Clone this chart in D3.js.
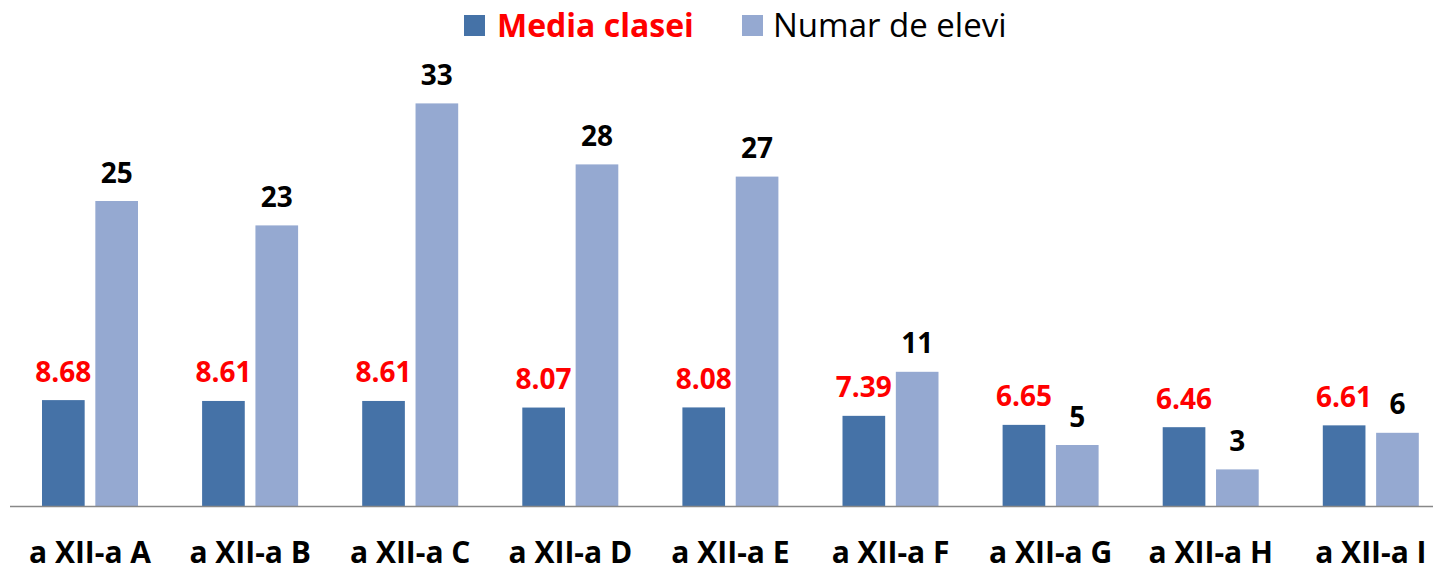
<!DOCTYPE html>
<html><head><meta charset="utf-8">
<script src="https://cdn.jsdelivr.net/npm/d3@7"></script>
<style>html,body{margin:0;padding:0;background:#fff;overflow:hidden}</style>
</head><body>
<svg id="c" width="1433" height="572"></svg>
<script>
const categories = ["a XII-a A","a XII-a B","a XII-a C","a XII-a D","a XII-a E","a XII-a F","a XII-a G","a XII-a H","a XII-a I"];
const seriesNames = ["Media clasei","Numar de elevi"];
const mediaClasei = [8.68, 8.61, 8.61, 8.07, 8.08, 7.39, 6.65, 6.46, 6.61];
const numarElevi = [25, 23, 33, 28, 27, 11, 5, 3, 6];
const mediaLabels = ["8.68","8.61","8.61","8.07","8.08","7.39","6.65","6.46","6.61"];

const colors = ["#4572A7", "#95A9D1"];
const labelColors = ["#FF0000", "#000000"];
const svg = d3.select("#c");
const base = 506;
const y = d3.scaleLinear().domain([0, 33]).range([base, base - 33*12.2]);
const x0 = d3.scaleBand().domain(categories).range([10, 10 + 9*160.1]).padding(0);
const x1 = d3.scaleBand().domain(seriesNames).range([32, 128]).paddingInner(0.2).paddingOuter(0);

const data = categories.map((c,i)=>({cat:c, vals:[
  {s:seriesNames[0], v:mediaClasei[i], t:mediaLabels[i], k:0},
  {s:seriesNames[1], v:numarElevi[i], t:String(numarElevi[i]), k:1}
]}));

const g = svg.selectAll("g.grp").data(data).join("g").attr("class","grp")
  .attr("transform", d=>`translate(${x0(d.cat)},0)`);
g.selectAll("rect").data(d=>d.vals).join("rect")
  .attr("x", d=>x1(d.s)).attr("width", x1.bandwidth())
  .attr("y", d=>y(d.v)).attr("height", d=>y(0)-y(d.v))
  .attr("fill", d=>colors[d.k]);
g.selectAll("text.val").data(d=>d.vals).join("text").attr("class","val")
  .attr("x", d=>x1(d.s)+x1.bandwidth()/2).attr("y", d=>y(d.v)-18.5)
  .attr("text-anchor","middle")
  .style("font-family","'Open Sans'").style("font-weight","bold").style("font-size","28px")
  .attr("fill", d=>labelColors[d.k]).text(d=>d.t);

// axis line
svg.append("line").attr("x1",10).attr("x2",1433).attr("y1",base+0.5).attr("y2",base+0.5)
  .attr("stroke","#888").attr("stroke-width",1.5);

// category labels
const xAxis = d3.axisBottom(x0).tickSize(0).tickPadding(0);
const ax = svg.append("g").attr("transform",`translate(0,${base})`).call(xAxis);
ax.select(".domain").remove();
ax.selectAll("text").attr("dy",null).attr("y", 57)
  .style("font-family","'Open Sans'").style("font-weight","bold").style("font-size","30px")
  .attr("fill","#000");

// legend
const leg = [
  {name:seriesNames[0], sx:464, tx:497, w:"bold", c:"#FF0000", fs:32},
  {name:seriesNames[1], sx:742, tx:773, w:"normal", c:"#000", fs:33}
];
leg.forEach((l,i)=>{
  svg.append("rect").attr("x",l.sx).attr("y",15).attr("width",21).attr("height",21).attr("fill",colors[i]);
  svg.append("text").attr("x",l.tx).attr("y",36.5)
    .style("font-family","'Open Sans'").style("font-weight",l.w).style("font-size",l.fs+"px")
    .attr("fill",l.c).text(l.name);
});
</script>
</body></html>
